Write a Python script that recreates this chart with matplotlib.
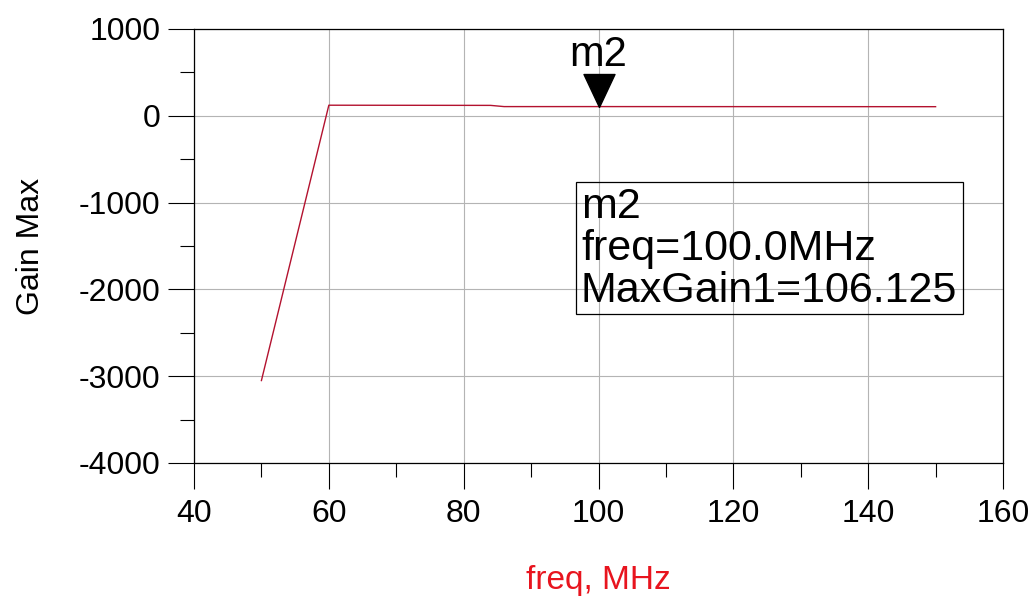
import matplotlib
matplotlib.use("Agg")
from matplotlib import pyplot as plt
from matplotlib.patches import Rectangle

# Gain sweep
freq_mhz = [50, 60, 84, 86, 100, 150]
gain_max = [-3050, 122, 120, 106, 106.125, 105]

# marker m2
m2_freq = 100.0
m2_gain = 106.125

x_ticks = [40, 60, 80, 100, 120, 140, 160]
y_ticks = [-4000, -3000, -2000, -1000, 0, 1000]

plt.rcParams['font.family'] = ['Liberation Sans', 'DejaVu Sans']
plt.rcParams['axes.unicode_minus'] = False

W, H = 1035, 599
fig = plt.figure(figsize=(W / 100, H / 100), dpi=100)
ax = fig.add_axes([194 / W, 1 - 463 / H, (1003 - 194) / W, (463 - 29) / H])

ax.plot(freq_mhz, gain_max, color="#b3122f", linewidth=1.0, zorder=3)

# downward triangle with its tip on the point
tri = [(0, 0), (-0.47, 1), (0.47, 1), (0, 0)]
ax.plot([m2_freq], [m2_gain], marker=tri, markersize=47.5, color="black",
        linestyle="none", zorder=4)
ax.annotate("m2", xy=(m2_freq, m2_gain), xytext=(0, 29),
            textcoords="offset points", ha="center", va="baseline",
            fontsize=30, color="black")

ax.set_xlim(40, 160)
ax.set_ylim(-4000, 1000)
ax.set_xticks(x_ticks)
ax.set_yticks(y_ticks)
ax.set_xticks([50, 70, 90, 110, 130, 150], minor=True)
ax.set_yticks([-3500, -2500, -1500, -500, 500], minor=True)
ax.tick_params(axis="both", which="major", direction="out", length=19,
               width=0.8, labelsize=23, color="black")
ax.tick_params(axis="both", which="minor", direction="out", length=10,
               width=0.8, color="black")
ax.tick_params(axis="x", which="major", pad=7)
ax.tick_params(axis="y", which="major", pad=5)
ax.grid(True, which="major", color="#b4b4b4", linewidth=0.8)
ax.set_axisbelow(True)
for s in ax.spines.values():
    s.set_linewidth(0.9)
    s.set_color("black")

ax.set_ylabel("Gain Max", fontsize=23, labelpad=24)
fig.text(598 / W, 1 - 580 / H, "freq, MHz", color="#e8141e", fontsize=24,
         ha="center", va="center")

# marker readout box
fig.patches.append(Rectangle((576 / W, 1 - 314 / H), (963 - 576) / W,
                             (314 - 182) / H, transform=fig.transFigure,
                             fill=False, edgecolor="black", linewidth=0.9))
lines = ["m2", "freq=%.1fMHz" % m2_freq, "MaxGain1=%.3f" % m2_gain]
for i, txt in enumerate(lines):
    fig.text(581 / W, 1 - (218 + 42 * i) / H, txt, fontsize=31,
             ha="left", va="baseline", color="black")

fig.savefig("out.png", dpi=100)
